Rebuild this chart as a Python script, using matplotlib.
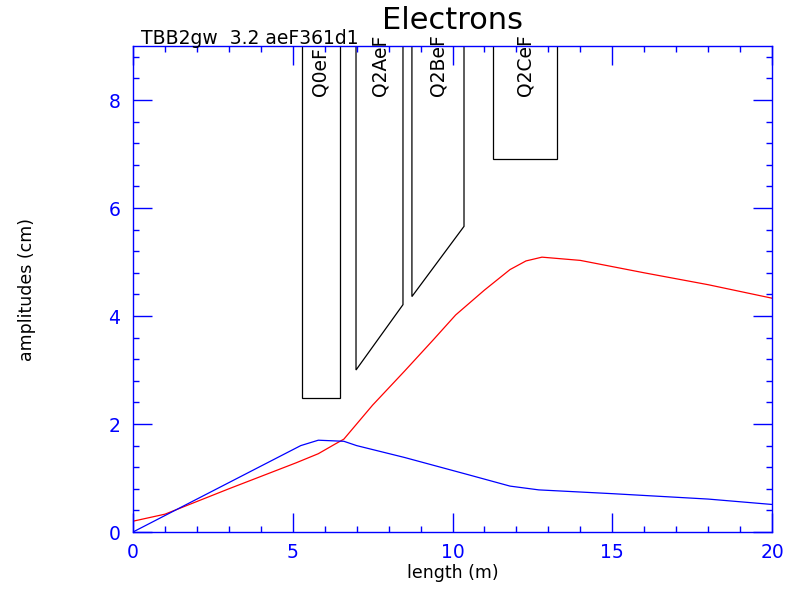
import matplotlib
matplotlib.use("Agg")
import matplotlib.pyplot as plt
from matplotlib.patches import Polygon
from matplotlib.ticker import MultipleLocator

# Data
red_s = [0.0, 1.0, 3.0, 5.1, 5.8, 6.3, 6.6, 7.5, 8.5, 9.4, 10.1, 11.0, 11.8, 12.3, 12.8, 14.0, 16.0, 18.0, 20.0]
red_a = [0.20, 0.33, 0.80, 1.28, 1.45, 1.62, 1.72, 2.35, 2.98, 3.56, 4.02, 4.48, 4.86, 5.02, 5.09, 5.03, 4.80, 4.58, 4.33]
blue_s = [0.0, 5.25, 5.8, 6.6, 7.0, 8.5, 9.5, 10.5, 11.8, 12.7, 15.0, 18.0, 20.0]
blue_a = [0.0, 1.60, 1.70, 1.68, 1.60, 1.38, 1.22, 1.06, 0.85, 0.78, 0.71, 0.61, 0.51]

mag_names = ["Q0eF", "Q2AeF", "Q2BeF", "Q2CeF"]
mag_s0 = [5.29, 6.98, 8.73, 11.27]
mag_s1 = [6.48, 8.45, 10.36, 13.27]
mag_y0 = [2.49, 3.00, 4.36, 6.90]
mag_y1 = [2.49, 4.21, 5.66, 6.90]
mag_lx = [5.85, 7.73, 9.55, 12.27]

fig = plt.figure(figsize=(7.94, 5.90), dpi=100)
ax = fig.add_axes([0.1675, 0.0983, 0.8048, 0.8237])
ax.set_xlim(0, 20)
ax.set_ylim(0, 9)

ax.plot(red_s, red_a, color="red", lw=0.9)
ax.plot(blue_s, blue_a, color="blue", lw=0.9)

for name, s0, s1, y0, y1, lx in zip(mag_names, mag_s0, mag_s1, mag_y0, mag_y1, mag_lx):
    poly = Polygon([(s0, 9.5), (s0, y0), (s1, y1), (s1, 9.5)], closed=True,
                   fill=False, edgecolor="black", lw=0.9, clip_on=True)
    ax.add_patch(poly)
    ax.text(lx, 8.07, name, rotation=90, ha="center", va="bottom", fontsize=13.5,
            color="black", clip_on=False)

for sp in ax.spines.values():
    sp.set_color("blue")
    sp.set_linewidth(1.0)

ax.xaxis.set_major_locator(MultipleLocator(5))
ax.xaxis.set_minor_locator(MultipleLocator(1))
ax.yaxis.set_major_locator(MultipleLocator(2))
ax.yaxis.set_minor_locator(MultipleLocator(0.4))
ax.tick_params(which="both", direction="in", top=True, right=True, colors="blue")
ax.tick_params(which="major", length=14, width=1.0, labelsize=13.5)
ax.tick_params(which="minor", length=4.5, width=1.0)
ax.tick_params(axis="x", which="major", pad=8)
ax.tick_params(axis="y", which="major", pad=9)

ax.set_xlabel("length (m)", fontsize=12.5, color="black", labelpad=1)
ax.set_ylabel("amplitudes (cm)", fontsize=12.5, color="black", labelpad=52)

fig.text(0.570, 0.965, "Electrons", ha="center", va="center", fontsize=22, color="black")
fig.text(0.178, 0.934, "TBB2gw  3.2 aeF361d1", ha="left", va="center", fontsize=13.5, color="black")

fig.savefig("out.png", dpi=100)
